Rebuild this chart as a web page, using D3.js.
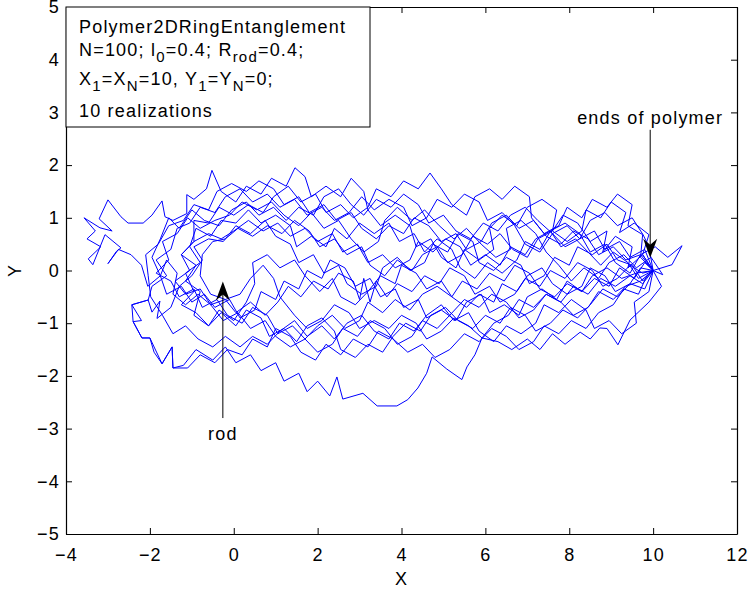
<!DOCTYPE html>
<html>
<head>
<meta charset="utf-8">
<script src="https://cdn.jsdelivr.net/npm/d3@7"></script>
<style>
  body { margin: 0; background: #fff; }
  text { font-family: "Liberation Sans", Arial, sans-serif; letter-spacing: 1.2px; }
</style>
</head>
<body>
<div id="chart"></div>
<script>
// tick labels
const xTicks = [-4, -2, 0, 2, 4, 6, 8, 10, 12];
const yTicks = [-5, -4, -3, -2, -1, 0, 1, 2, 3, 4, 5];

// 10 realizations, points (X, Y)
const loop1 = [[10,0],[9.75,0.3],[9.9,0.68],[9.55,0.9],[9.2,0.72],[9.35,1.1],[9.0,1.3],[8.75,1.0],[8.4,1.15],[8.3,0.75],[7.95,0.55],[7.6,0.75],[7.7,1.15],[7.35,1.35],[7.0,1.2],[6.75,0.85],[6.4,1.05],[6.1,0.8],[6.2,0.4],[5.85,0.2],[5.5,0.4],[5.3,0.05],[4.95,0.25],[4.7,0.6],[4.35,0.45],[4.2,0.85],[3.85,1.05],[3.5,0.85],[3.2,1.15],[3.1,1.5],[2.8,1.75],[2.55,1.4],[2.2,1.6],[1.85,1.4],[1.7,1.78],[1.46,1.95],[1.25,1.6],[0.9,1.75],[0.65,1.45],[0.3,1.6],[0.05,1.3],[-0.3,1.5],[-0.52,1.9],[-0.65,1.55],[-0.95,1.35],[-1.12,1.44],[-1.12,1.08],[-1.45,0.95],[-1.64,1.02],[-1.71,1.32],[-1.95,1.05],[-2.16,0.9],[-2.52,0.9],[-2.69,1.02],[-3.0,1.34],[-3.21,0.98],[-2.9,0.75],[-3.19,0.81],[-3.57,1.0],[-3.3,0.75],[-3.5,0.6],[-3.17,0.45],[-3.47,0.22],[-3.36,0.11],[-3.07,0.68],[-2.69,0.43],[-2.8,0.36],[-3.0,0.13],[-2.75,0.4],[-2.45,0.3],[-2.2,0.1],[-2.05,-0.3],[-1.75,-0.1],[-1.6,-0.45],[-1.25,-0.3],[-1.0,-0.6],[-0.7,-0.45],[-0.45,-0.7],[-0.1,-0.55],[0.15,-0.9],[0.5,-0.75],[0.65,-0.4],[1.0,-0.55],[1.2,-0.2],[1.55,-0.35],[1.75,0.0],[2.1,-0.15],[2.3,0.2],[2.65,0.05],[2.9,-0.3],[3.25,-0.15],[3.5,-0.5],[3.85,-0.35],[4.05,-0.7],[4.4,-0.55],[4.6,-0.9],[4.95,-0.75],[5.3,-0.95],[5.55,-0.6],[5.9,-0.45],[6.1,-0.8],[6.45,-0.65],[6.8,-0.85],[7.0,-0.5],[7.35,-0.35],[7.7,-0.55],[7.95,-0.2],[8.3,-0.4],[8.6,-0.15],[8.95,-0.3],[9.2,0.05],[9.55,-0.15],[9.8,0.15],[10,0]];
const loop2 = [[10,0],[10.2,-0.3],[9.9,-0.6],[9.45,-0.94],[9.16,-1.41],[8.9,-1.1],[8.73,-1.09],[8.5,-1.3],[8.26,-1.17],[7.9,-1.4],[7.6,-1.2],[7.3,-1.5],[7.0,-1.3],[6.63,-1.5],[6.3,-1.35],[5.92,-1.28],[5.75,-1.6],[5.56,-1.83],[5.44,-2.07],[5.08,-1.87],[4.73,-1.64],[4.6,-1.95],[4.39,-2.23],[4.15,-2.45],[3.89,-2.57],[3.42,-2.57],[3.08,-2.33],[2.6,-2.44],[2.46,-2.02],[2.29,-2.38],[2.0,-2.1],[1.75,-2.3],[1.55,-1.95],[1.2,-2.1],[1.0,-1.75],[0.65,-1.9],[0.4,-1.6],[0.05,-1.75],[-0.2,-1.45],[-0.5,-1.7],[-0.9,-1.5],[-1.2,-1.8],[-1.45,-1.85],[-1.47,-1.45],[-1.71,-1.77],[-2.0,-1.28],[-2.19,-1.28],[-2.4,-0.97],[-2.43,-0.65],[-2.04,-0.56],[-1.95,-0.79],[-1.76,-0.58],[-1.83,-0.91],[-1.5,-0.7],[-1.3,-0.3],[-1.0,-0.1],[-0.75,0.2],[-0.95,0.45],[-0.6,0.6],[-0.25,0.55],[0.05,0.85],[0.4,0.7],[0.75,0.95],[1.0,0.65],[1.35,0.5],[1.55,0.15],[1.9,0.3],[2.15,-0.05],[2.5,0.1],[2.7,-0.25],[3.05,-0.45],[3.4,-0.3],[3.55,0.05],[3.9,0.25],[4.2,0.0],[4.55,0.15],[4.75,0.5],[5.1,0.35],[5.35,0.7],[5.7,0.55],[5.85,0.15],[6.2,0.0],[6.5,0.25],[6.85,0.1],[7.05,-0.25],[7.4,-0.1],[7.65,0.25],[8.0,0.1],[8.2,0.45],[8.55,0.3],[8.9,0.5],[9.15,0.2],[9.5,0.1],[9.75,-0.2],[10,0]];
const loop3 = [[10,0],[10.45,0.11],[10.69,0.47],[10.35,0.25],[10.05,0.45],[9.7,0.3],[9.45,-0.05],[9.1,0.15],[8.85,0.5],[8.5,0.35],[8.25,0.7],[7.9,0.9],[7.55,0.75],[7.3,0.4],[6.95,0.55],[6.75,0.2],[6.4,-0.05],[6.05,0.15],[5.75,-0.15],[5.4,0.05],[5.2,0.4],[4.85,0.6],[4.55,0.35],[4.3,0.7],[3.95,0.55],[3.7,0.9],[3.35,0.7],[3.0,0.9],[2.7,0.6],[2.4,0.8],[2.2,0.45],[1.85,0.65],[1.5,0.45],[1.35,0.85],[1.0,1.05],[0.65,0.9],[0.35,1.15],[0.05,0.9],[-0.3,0.95],[-0.55,0.65],[-0.9,0.8],[-1.05,0.45],[-0.8,0.15],[-1.15,-0.05],[-0.95,-0.4],[-1.25,-0.65],[-0.9,-0.8],[-0.6,-1.05],[-0.35,-0.75],[0.0,-0.95],[0.3,-0.6],[0.5,-0.25],[0.45,0.15],[0.8,0.3],[1.1,0.05],[1.45,0.2],[1.7,-0.1],[2.05,-0.4],[2.35,-0.15],[2.55,-0.5],[2.9,-0.65],[3.2,-0.4],[3.5,-0.1],[3.85,-0.25],[4.0,0.1],[4.35,-0.05],[4.6,-0.35],[4.95,-0.2],[5.2,-0.5],[5.55,-0.7],[5.85,-0.45],[6.2,-0.6],[6.4,-0.25],[6.75,-0.4],[7.0,-0.1],[7.35,0.05],[7.6,-0.25],[7.95,-0.45],[8.3,-0.3],[8.5,0.05],[8.85,-0.1],[9.1,-0.4],[9.45,-0.25],[9.7,0.05],[10,0]];
const loop4 = [[10,0],[9.7,0.25],[9.75,0.68],[9.4,0.85],[9.5,1.25],[9.15,1.45],[8.9,1.2],[8.55,1.35],[8.3,1.0],[7.95,1.2],[7.75,0.85],[7.4,0.7],[7.1,1.0],[7.05,1.4],[6.7,1.6],[6.4,1.35],[6.1,1.55],[5.75,1.4],[5.55,1.05],[5.2,1.25],[4.95,1.55],[4.68,1.85],[4.4,1.55],[4.05,1.7],[3.75,1.4],[3.4,1.55],[3.2,1.2],[2.85,1.0],[2.55,1.25],[2.2,1.1],[1.95,1.45],[1.6,1.3],[1.3,1.6],[0.95,1.4],[0.7,1.1],[0.35,1.25],[0.0,1.05],[-0.35,1.2],[-0.6,0.9],[-0.95,0.95],[-0.95,0.55],[-1.25,0.3],[-0.9,0.1],[-1.15,-0.2],[-0.8,-0.4],[-0.95,-0.85],[-0.6,-1.05],[-0.3,-0.8],[0.05,-1.05],[0.3,-0.75],[0.65,-0.9],[0.85,-1.25],[1.2,-1.1],[1.5,-1.35],[1.75,-1.05],[2.1,-0.9],[2.4,-1.15],[2.55,-1.5],[2.9,-1.65],[3.2,-1.4],[3.55,-1.55],[3.8,-1.25],[4.1,-1.0],[4.45,-1.15],[4.7,-0.85],[5.05,-0.7],[5.35,-0.95],[5.7,-1.1],[6.0,-0.85],[6.35,-1.0],[6.6,-0.7],[6.95,-0.85],[7.2,-1.15],[7.55,-1.0],[7.85,-0.75],[8.2,-0.9],[8.5,-0.65],[8.8,-0.35],[9.15,-0.5],[9.45,-0.25],[9.8,-0.35],[10,0]];
const loop5 = [[10,0],[10.23,-0.08],[9.95,0.25],[9.6,0.05],[9.3,0.3],[8.95,0.15],[8.7,-0.15],[8.35,0.05],[8.05,-0.2],[7.75,0.1],[7.45,0.35],[7.2,0.7],[6.85,0.95],[6.5,0.8],[6.6,0.4],[6.25,0.25],[5.9,0.5],[5.55,0.8],[5.25,0.6],[4.9,0.85],[4.55,1.15],[4.25,0.95],[3.9,1.2],[3.6,0.95],[3.45,0.55],[3.1,0.35],[2.8,0.6],[2.5,0.95],[2.15,0.8],[1.85,1.1],[1.55,0.85],[1.2,1.05],[0.9,1.3],[0.55,1.15],[0.2,1.3],[-0.1,1.05],[-0.45,0.95],[-0.8,0.8],[-1.1,1.0],[-1.35,0.7],[-1.7,0.55],[-1.55,0.2],[-1.85,-0.05],[-1.5,-0.2],[-1.3,-0.5],[-0.95,-0.35],[-0.75,-0.7],[-0.4,-0.55],[-0.15,-0.85],[0.2,-1.0],[0.45,-0.7],[0.8,-0.85],[1.05,-1.2],[1.4,-1.05],[1.7,-1.3],[2.0,-1.05],[2.35,-0.85],[2.65,-1.1],[3.0,-0.95],[3.2,-0.6],[3.55,-0.8],[3.85,-0.55],[4.2,-0.75],[4.5,-0.45],[4.85,-0.3],[5.2,-0.5],[5.45,-0.2],[5.8,-0.35],[6.1,-0.05],[6.45,-0.2],[6.7,0.1],[7.05,-0.05],[7.3,-0.35],[7.65,-0.5],[7.95,-0.25],[8.3,-0.4],[8.55,-0.1],[8.9,0.05],[9.25,-0.15],[9.6,-0.05],[10,0]];
const loop6 = [[10,0],[9.8,0.4],[9.45,0.25],[9.2,0.55],[8.85,0.4],[8.6,0.75],[8.25,0.6],[7.95,0.85],[7.6,0.7],[7.3,0.35],[6.95,0.5],[6.7,0.85],[6.4,1.1],[6.05,0.95],[5.85,1.3],[5.5,1.45],[5.2,1.2],[4.85,1.35],[4.6,1.0],[4.25,0.85],[4.05,1.2],[3.7,1.35],[3.35,1.15],[3.05,1.4],[2.75,1.1],[2.4,0.95],[2.1,1.2],[1.75,1.05],[1.45,1.35],[1.1,1.2],[0.8,1.45],[0.45,1.3],[0.15,1.55],[-0.2,1.4],[-0.45,1.1],[-0.8,1.2],[-1.05,0.9],[-1.35,0.8],[-1.5,0.4],[-1.85,0.2],[-1.6,-0.1],[-1.95,-0.3],[-2.04,-0.56],[-2.43,-0.65],[-2.2,-0.95],[-2.4,-0.97],[-2.19,-1.28],[-2.0,-1.28],[-1.9,-1.55],[-1.71,-1.77],[-1.47,-1.45],[-1.45,-1.85],[-1.1,-1.85],[-0.8,-1.6],[-0.45,-1.75],[-0.15,-1.5],[0.2,-1.6],[0.45,-1.3],[0.8,-1.45],[1.0,-1.1],[1.35,-1.25],[1.6,-1.55],[1.95,-1.7],[2.2,-1.4],[2.55,-1.6],[2.85,-1.3],[3.2,-1.45],[3.45,-1.15],[3.8,-1.3],[4.15,-1.55],[4.5,-1.4],[4.8,-1.65],[5.15,-1.5],[5.5,-1.2],[5.85,-1.35],[6.15,-1.1],[6.5,-1.25],[6.8,-1.5],[7.15,-1.35],[7.4,-1.05],[7.75,-1.2],[8.05,-0.95],[8.4,-1.1],[8.7,-0.8],[9.05,-0.65],[9.3,-0.35],[9.65,-0.45],[9.85,-0.1],[10,0]];
const loop7 = [[10,0],[9.65,-0.15],[9.4,0.15],[9.05,0.35],[8.75,0.1],[8.45,0.35],[8.15,0.6],[7.8,0.45],[7.55,0.75],[7.2,0.6],[6.95,0.3],[6.6,0.45],[6.35,0.1],[6.0,0.3],[5.65,0.1],[5.4,0.45],[5.05,0.6],[4.75,0.35],[4.4,0.55],[4.2,0.2],[3.85,0.05],[3.55,0.3],[3.2,0.15],[2.95,0.5],[2.6,0.35],[2.35,0.7],[2.0,0.55],[1.7,0.8],[1.35,0.65],[1.05,0.9],[0.7,0.75],[0.35,0.95],[0.0,0.75],[-0.3,0.6],[-0.6,0.7],[-0.95,0.55],[-1.25,0.3],[-1.05,0.0],[-1.4,-0.2],[-1.15,-0.45],[-0.8,-0.35],[-0.55,-0.65],[-0.2,-0.55],[0.05,-0.8],[0.4,-0.6],[0.75,-0.85],[1.05,-0.6],[1.3,-0.3],[1.6,-0.5],[1.9,-0.2],[2.25,-0.35],[2.5,-0.05],[2.85,-0.2],[3.0,-0.55],[3.1,-0.15],[3.25,-0.6],[3.4,-0.2],[3.65,-0.5],[3.9,-0.25],[4.25,-0.4],[4.55,-0.1],[4.9,-0.25],[5.15,0.05],[5.5,-0.1],[5.75,-0.45],[6.1,-0.3],[6.35,-0.6],[6.7,-0.45],[6.95,-0.15],[7.3,-0.3],[7.55,0.0],[7.9,-0.15],[8.2,0.15],[8.55,0.0],[8.8,-0.3],[9.15,-0.15],[9.45,0.1],[9.75,-0.05],[10,0]];
const loop8 = [[10,0],[9.9,-0.4],[9.55,-0.6],[9.6,-1.0],[9.25,-1.2],[8.95,-0.95],[8.6,-1.1],[8.4,-0.75],[8.05,-0.55],[7.75,-0.8],[7.4,-0.65],[7.2,-1.0],[6.85,-1.2],[6.5,-1.05],[6.2,-1.35],[5.85,-1.15],[5.6,-0.8],[5.25,-0.95],[4.95,-0.65],[4.6,-0.85],[4.3,-1.15],[3.95,-1.0],[3.7,-1.3],[3.35,-1.15],[3.05,-0.85],[2.7,-1.0],[2.4,-1.3],[2.1,-1.05],[1.75,-1.25],[1.45,-0.95],[1.1,-1.15],[0.8,-1.4],[0.45,-1.25],[0.15,-1.45],[-0.2,-1.25],[-0.5,-1.45],[-0.85,-1.3],[-1.15,-1.05],[-1.45,-1.2],[-1.7,-0.85],[-1.98,-0.5],[-2.04,-0.1],[-2.1,0.3],[-1.8,0.5],[-1.55,0.85],[-1.2,0.95],[-0.95,1.25],[-0.6,1.15],[-0.4,1.5],[-0.05,1.65],[0.3,1.5],[0.6,1.7],[0.95,1.55],[1.2,1.25],[1.55,1.4],[1.8,1.1],[2.15,1.25],[2.45,0.95],[2.8,1.1],[3.05,0.8],[3.4,0.6],[3.7,0.85],[4.05,0.7],[4.3,1.0],[4.65,0.85],[4.95,0.55],[5.3,0.7],[5.55,0.4],[5.9,0.55],[6.15,0.9],[6.5,1.05],[6.8,0.8],[7.15,0.95],[7.45,0.65],[7.8,0.5],[8.1,0.75],[8.45,0.6],[8.7,0.3],[9.05,0.45],[9.35,0.2],[9.7,0.3],[10,0]];
const loop9 = [[10,0],[9.75,0.3],[9.4,0.05],[9.5,0.45],[9.1,0.65],[8.8,0.35],[8.9,0.75],[8.5,0.55],[8.2,0.9],[7.85,1.05],[7.6,0.75],[7.25,0.6],[7.0,0.25],[6.65,0.4],[6.35,0.7],[6.05,0.5],[5.7,0.65],[5.45,0.3],[5.1,0.15],[4.85,0.45],[4.5,0.3],[4.25,0.0],[3.9,0.2],[3.6,-0.1],[3.25,0.1],[3.05,0.45],[2.7,0.3],[2.4,0.6],[2.05,0.45],[1.8,0.75],[1.45,0.95],[1.15,0.7],[0.8,0.85],[0.45,0.65],[0.1,0.8],[-0.2,0.6],[-0.5,0.55],[-0.75,0.3],[-0.8,-0.1],[-0.55,-0.45],[-0.2,-0.55],[0.15,-0.45],[0.4,-0.15],[0.7,0.1],[0.95,-0.15],[1.1,-0.5],[1.45,-0.85],[1.75,-1.1],[2.1,-0.95],[2.4,-0.65],[2.75,-0.8],[3.0,-1.1],[3.35,-0.95],[3.7,-1.1],[4.0,-0.85],[4.35,-1.0],[4.6,-1.3],[4.95,-1.15],[5.25,-0.9],[5.6,-1.05],[5.92,-1.28],[6.2,-1.0],[6.55,-0.85],[6.8,-0.55],[7.15,-0.7],[7.45,-0.45],[7.8,-0.6],[8.1,-0.85],[8.45,-0.7],[8.7,-0.4],[9.05,-0.55],[9.35,-0.3],[9.7,-0.2],[10,0]];
const loop10 = [[10,0],[9.9,0.45],[9.76,0.68],[9.5,1.0],[9.15,0.85],[8.85,1.1],[8.5,0.95],[8.25,0.6],[7.9,0.45],[7.6,0.7],[7.25,0.95],[6.95,1.2],[6.6,1.05],[6.3,0.75],[5.95,0.9],[5.65,0.6],[5.3,0.75],[5.0,1.05],[4.65,0.9],[4.4,1.25],[4.05,1.45],[3.75,1.2],[3.4,1.35],[3.1,1.05],[2.8,1.25],[2.5,1.55],[2.15,1.4],[1.9,1.05],[1.55,1.2],[1.25,0.95],[0.95,1.2],[0.6,1.05],[0.3,1.3],[-0.05,1.15],[-0.35,0.85],[-0.7,0.95],[-1.0,1.15],[-1.3,0.8],[-1.55,1.0],[-1.75,0.6],[-1.95,0.25],[-1.75,-0.1],[-1.6,0.2],[-1.35,-0.05],[-1.45,-0.45],[-1.15,-0.65],[-0.85,-0.45],[-0.55,-0.65],[-0.25,-0.95],[0.1,-0.8],[0.4,-1.1],[0.75,-0.95],[1.0,-1.25],[1.35,-1.45],[1.7,-1.3],[2.0,-1.55],[2.35,-1.4],[2.6,-1.1],[2.95,-1.25],[3.25,-0.95],[3.6,-1.1],[3.9,-1.4],[4.25,-1.25],[4.5,-0.95],[4.85,-1.1],[5.15,-0.85],[5.5,-0.55],[5.85,-0.7],[6.15,-0.45],[6.5,-0.6],[6.8,-0.9],[7.15,-0.75],[7.45,-0.45],[7.8,-0.6],[8.1,-0.3],[8.45,-0.45],[8.75,-0.15],[9.1,-0.3],[9.45,-0.1],[9.75,-0.25],[10,0]];
const realizations = [loop1, loop2, loop3, loop4, loop5, loop6, loop7, loop8, loop9, loop10];

// annotation arrows: [text, tail X, tail Y, tip X, tip Y]
const endsArrow = ["ends of polymer", 9.93, 2.67, 9.93, 0.24];
const rodArrow = ["rod", -0.26, -2.8, -0.26, -0.21];

const width = 748, height = 593;
const margin = { top: 7, right: 11, bottom: 59, left: 66 };
const fs = 18;

const svg = d3.select("#chart").append("svg")
    .attr("width", width)
    .attr("height", height);

const x = d3.scaleLinear().domain([-4, 12]).range([margin.left, width - margin.right]);
const y = d3.scaleLinear().domain([-5, 5]).range([height - margin.bottom, margin.top]);

// polymer lines
const line = d3.line().x(d => x(d[0])).y(d => y(d[1]));
svg.append("g")
    .selectAll("path")
    .data(realizations)
    .join("path")
    .attr("d", line)
    .attr("fill", "none")
    .attr("stroke", "#0000ff")
    .attr("stroke-width", 1);

// axes, ticks inside like matlab
function styleAxis(g) {
    g.select(".domain").attr("stroke", "#000").attr("stroke-width", 1.2);
    g.selectAll(".tick line").attr("stroke", "#000");
    g.selectAll(".tick text").attr("font-size", fs).attr("fill", "#000")
        .attr("font-family", "'Liberation Sans', Arial, sans-serif");
}
svg.append("g")
    .attr("transform", `translate(0,${y(-5)})`)
    .call(d3.axisBottom(x).tickValues(xTicks).tickSize(-6).tickSizeOuter(0).tickPadding(14))
    .call(styleAxis);
svg.append("g")
    .attr("transform", `translate(0,${y(5)})`)
    .call(d3.axisTop(x).tickValues(xTicks).tickSize(-6).tickSizeOuter(0).tickFormat(""))
    .call(styleAxis);
svg.append("g")
    .attr("transform", `translate(${x(-4)},0)`)
    .call(d3.axisLeft(y).tickValues(yTicks).tickSize(-6).tickSizeOuter(0).tickPadding(6))
    .call(styleAxis);
svg.append("g")
    .attr("transform", `translate(${x(12)},0)`)
    .call(d3.axisRight(y).tickValues(yTicks).tickSize(-6).tickSizeOuter(0).tickFormat(""))
    .call(styleAxis);

// axis labels
svg.append("text")
    .attr("x", (x(-4) + x(12)) / 2).attr("y", 585)
    .attr("text-anchor", "middle").attr("font-size", fs)
    .text("X");
svg.append("text")
    .attr("transform", `translate(21,${y(0)}) rotate(-90)`)
    .attr("text-anchor", "middle").attr("font-size", fs)
    .text("Y");

// info box
const box = svg.append("g");
box.append("rect")
    .attr("x", x(-4)).attr("y", y(5))
    .attr("width", 370 - x(-4)).attr("height", 127 - y(5))
    .attr("fill", "#fff").attr("stroke", "#000").attr("stroke-width", 1);
const tx = 79, sub = 15;
box.append("text").attr("x", tx).attr("y", 33).attr("font-size", fs).text("Polymer2DRingEntanglement");
const t2 = box.append("text").attr("x", tx).attr("y", 56).attr("font-size", fs);
t2.append("tspan").text("N=100; l");
t2.append("tspan").attr("dy", 6).attr("font-size", sub).text("0");
t2.append("tspan").attr("dy", -6).text("=0.4; R");
t2.append("tspan").attr("dy", 6).attr("font-size", sub).text("rod");
t2.append("tspan").attr("dy", -6).text("=0.4;");
const t3 = box.append("text").attr("x", tx).attr("y", 85).attr("font-size", fs);
t3.append("tspan").text("X");
t3.append("tspan").attr("dy", 6).attr("font-size", sub).text("1");
t3.append("tspan").attr("dy", -6).text("=X");
t3.append("tspan").attr("dy", 6).attr("font-size", sub).text("N");
t3.append("tspan").attr("dy", -6).text("=10, Y");
t3.append("tspan").attr("dy", 6).attr("font-size", sub).text("1");
t3.append("tspan").attr("dy", -6).text("=Y");
t3.append("tspan").attr("dy", 6).attr("font-size", sub).text("N");
t3.append("tspan").attr("dy", -6).text("=0;");
box.append("text").attr("x", tx).attr("y", 117).attr("font-size", fs).text("10 realizations");

// arrows with matlab style heads
function drawArrow(a, labelAbove) {
    const x0 = x(a[1]), y0 = y(a[2]), x1 = x(a[3]), y1 = y(a[4]);
    const dir = Math.sign(y1 - y0); // +1 pointing down
    svg.append("line")
        .attr("x1", x0).attr("y1", y0).attr("x2", x1).attr("y2", y1 - dir * 8)
        .attr("stroke", "#000").attr("stroke-width", 1);
    svg.append("path")
        .attr("d", `M${x1},${y1} L${x1 - 7},${y1 - dir * 19} L${x1},${y1 - dir * 13} L${x1 + 7},${y1 - dir * 19} Z`)
        .attr("fill", "#000");
    svg.append("text")
        .attr("x", x0).attr("y", labelAbove ? y0 - 6 : y0 + 22)
        .attr("text-anchor", "middle").attr("font-size", fs)
        .text(a[0]);
}
drawArrow(endsArrow, true);
drawArrow(rodArrow, false);
</script>
</body>
</html>
